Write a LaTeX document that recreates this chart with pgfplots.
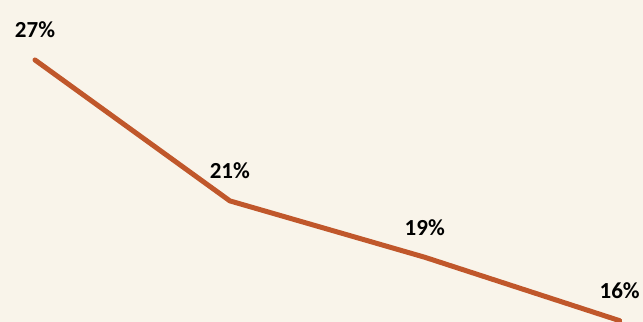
\documentclass[border=0pt]{standalone}
\usepackage{pgfplots}
\pgfplotsset{compat=1.18}
\usepackage{fontspec}
\setmainfont{Carlito}[BoldFont={Carlito Bold}]
\newfontfamily\labfont{Carlito Bold}
\definecolor{bg}{HTML}{F9F4EA}
\definecolor{rust}{HTML}{C0572B}
\begin{document}
\begin{tikzpicture}
\begin{axis}[
  scale only axis, width=643pt, height=322pt,
  hide axis,
  xmin=-0.1795, xmax=3.118,
  ymin=15.851, ymax=29.553,
  axis background/.style={fill=bg},
  clip=true,
  clip marker paths=false,
]
\addplot[draw=none, fill=bg] coordinates {(-0.1795,15.851)} ;
\addplot[rust, line width=5pt, line cap=round, line join=round, mark=none,
  nodes near coords, point meta=explicit symbolic,
  every node near coord/.style={anchor=center, yshift=30pt, text=black,
     font=\labfont\fontsize{23}{26}\selectfont}]
  coordinates {(0,27) [27\%] (1,21) [21\%] (2,18.6) [19\%] (3,15.9) [16\%]};
\end{axis}
\end{tikzpicture}
\end{document}
